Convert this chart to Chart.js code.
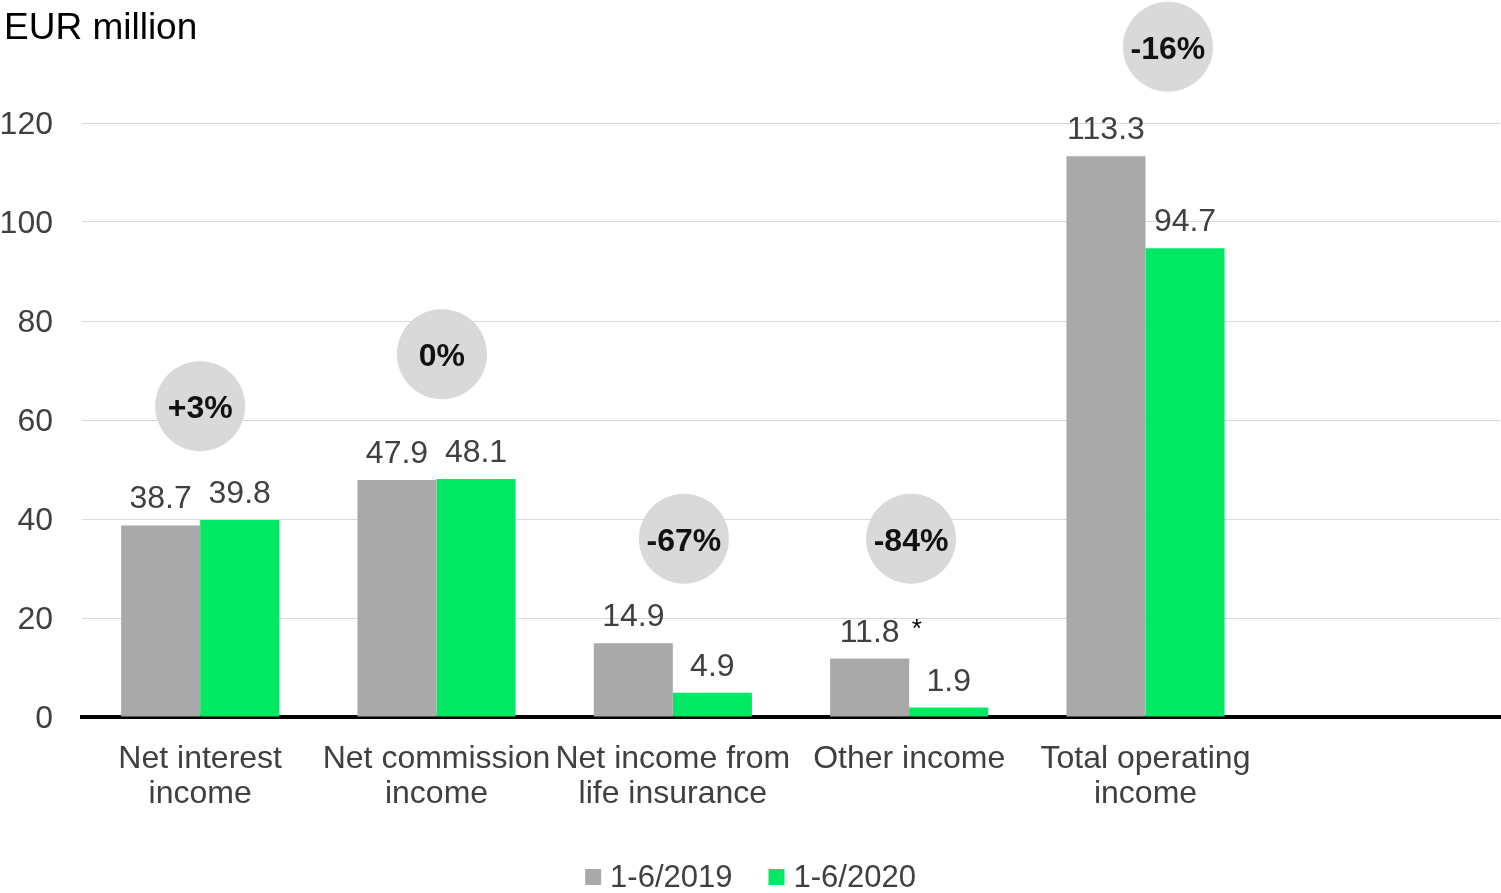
<!DOCTYPE html>
<html>
<head>
<meta charset="utf-8">
<script src="https://cdn.jsdelivr.net/npm/chart.js@4.4.1/dist/chart.umd.min.js"></script>
<style>
  html, body { margin: 0; padding: 0; background: #fff; }
  #wrap { width: 1501px; height: 893px; }
</style>
</head>
<body>
<div id="wrap"><canvas id="chartIncome"></canvas></div>
<script>
const categories = [["Net interest", "income"], ["Net commission", "income"], ["Net income from", "life insurance"], "Other income", ["Total operating", "income"], ""];
const h1_2019 = [38.7, 47.9, 14.9, 11.8, 113.3, null];
const h1_2020 = [39.8, 48.1, 4.9, 1.9, 94.7, null];
const notes2019 = ["", "", "", "*", "", ""];
const changeLabels = ["+3%", "0%", "-67%", "-84%", "-16%", null];
const changeLevels = [62.8, 73.3, 36, 36, 135.4, null];
const changeShift = [0, 0.023, 0.047, 0.008, 0.095, 0];
const yTicks = [0, 20, 40, 60, 80, 100, 120];

const FONT = "'Liberation Sans', Arial, sans-serif";
const TEXT = "#404040";

const extras = {
  id: "extras",
  afterDatasetsDraw(chart) {
    const { ctx, scales: { x, y } } = chart;
    ctx.save();
    // value labels above bars
    chart.data.datasets.forEach((ds, i) => {
      chart.getDatasetMeta(i).data.forEach((bar, j) => {
        const v = ds.data[j];
        if (v == null) return;
        const txt = v.toFixed(1);
        ctx.font = "32px " + FONT;
        ctx.fillStyle = TEXT;
        ctx.textAlign = "center";
        ctx.textBaseline = "alphabetic";
        ctx.fillText(txt, bar.x, bar.y - 17);
        if (i === 0 && notes2019[j]) {
          ctx.textAlign = "left";
          ctx.fillStyle = "#000";
          ctx.font = "26px " + FONT;
          ctx.fillText(" " + notes2019[j], bar.x + 35, bar.y - 22);
        }
      });
    });
    // change bubbles
    const step = x.getPixelForValue(1) - x.getPixelForValue(0);
    changeLabels.forEach((lab, j) => {
      if (!lab) return;
      const cx = x.getPixelForValue(j) + changeShift[j] * step;
      const cy = y.getPixelForValue(changeLevels[j]);
      ctx.beginPath();
      ctx.arc(cx, cy, 45, 0, Math.PI * 2);
      ctx.fillStyle = "#d9d9d9";
      ctx.fill();
      ctx.font = "bold 32px " + FONT;
      ctx.fillStyle = "#111";
      ctx.textAlign = "center";
      ctx.textBaseline = "middle";
      ctx.fillText(lab, cx, cy + 3);
    });
    ctx.restore();
  },
  afterDraw(chart) {
    const { ctx } = chart;
    ctx.save();
    // unit title
    ctx.font = "37px " + FONT;
    ctx.fillStyle = "#000";
    ctx.textAlign = "left";
    ctx.textBaseline = "alphabetic";
    ctx.fillText("EUR million", 4, 39);
    // legend
    ctx.font = "31px " + FONT;
    const items = chart.data.datasets.map(ds => ({ label: ds.label, color: ds.backgroundColor, w: ctx.measureText(ds.label).width }));
    const box = 16, gap = 9, between = 36;
    const total = items.reduce((s, it) => s + box + gap + it.w, 0) + between * (items.length - 1);
    let lx = chart.width / 2 - total / 2;
    const ly = 877;
    items.forEach(it => {
      ctx.fillStyle = it.color;
      ctx.fillRect(lx, ly - box / 2, box, box);
      ctx.fillStyle = TEXT;
      ctx.textBaseline = "middle";
      ctx.fillText(it.label, lx + box + gap, ly + 1);
      lx += box + gap + it.w + between;
    });
    ctx.restore();
  }
};

document.addEventListener("DOMContentLoaded", () => {
  new Chart(document.querySelector("#chartIncome"), {
    type: "bar",
    data: {
      labels: categories,
      datasets: [
        {
          label: "1-6/2019",
          data: h1_2019,
          backgroundColor: "#a9a9a9",
          categoryPercentage: 0.669,
          barPercentage: 1,
        },
        {
          label: "1-6/2020",
          data: h1_2020,
          backgroundColor: "#00e864",
          categoryPercentage: 0.669,
          barPercentage: 1,
        },
      ],
    },
    options: {
      responsive: true,
      maintainAspectRatio: false,
      animation: false,
      layout: { padding: { top: 123, right: 1, left: 0, bottom: 0 } },
      scales: {
        x: {
          grid: { display: false },
          border: { color: "#000", width: 4 },
          ticks: {
            color: TEXT,
            font: { family: FONT, size: 32, lineHeight: 1.08 },
            padding: 17,
            autoSkip: false,
            maxRotation: 0,
          },
          afterFit: (scale) => { scale.height = 176; },
        },
        y: {
          min: 0,
          max: 120,
          afterBuildTicks: (scale) => { scale.ticks = yTicks.map(v => ({ value: v })); },
          grid: { color: "#d9d9d9", lineWidth: 1, drawTicks: false },
          border: { display: false },
          ticks: {
            color: TEXT,
            font: { family: FONT, size: 32 },
            padding: 29,
            labelOffset: 2,
          },
          afterFit: (scale) => { scale.width = 82; },
        },
      },
      plugins: {
        legend: { display: false },
        tooltip: { enabled: false },
      },
    },
    plugins: [extras],
  });
});
</script>
</body>
</html>
